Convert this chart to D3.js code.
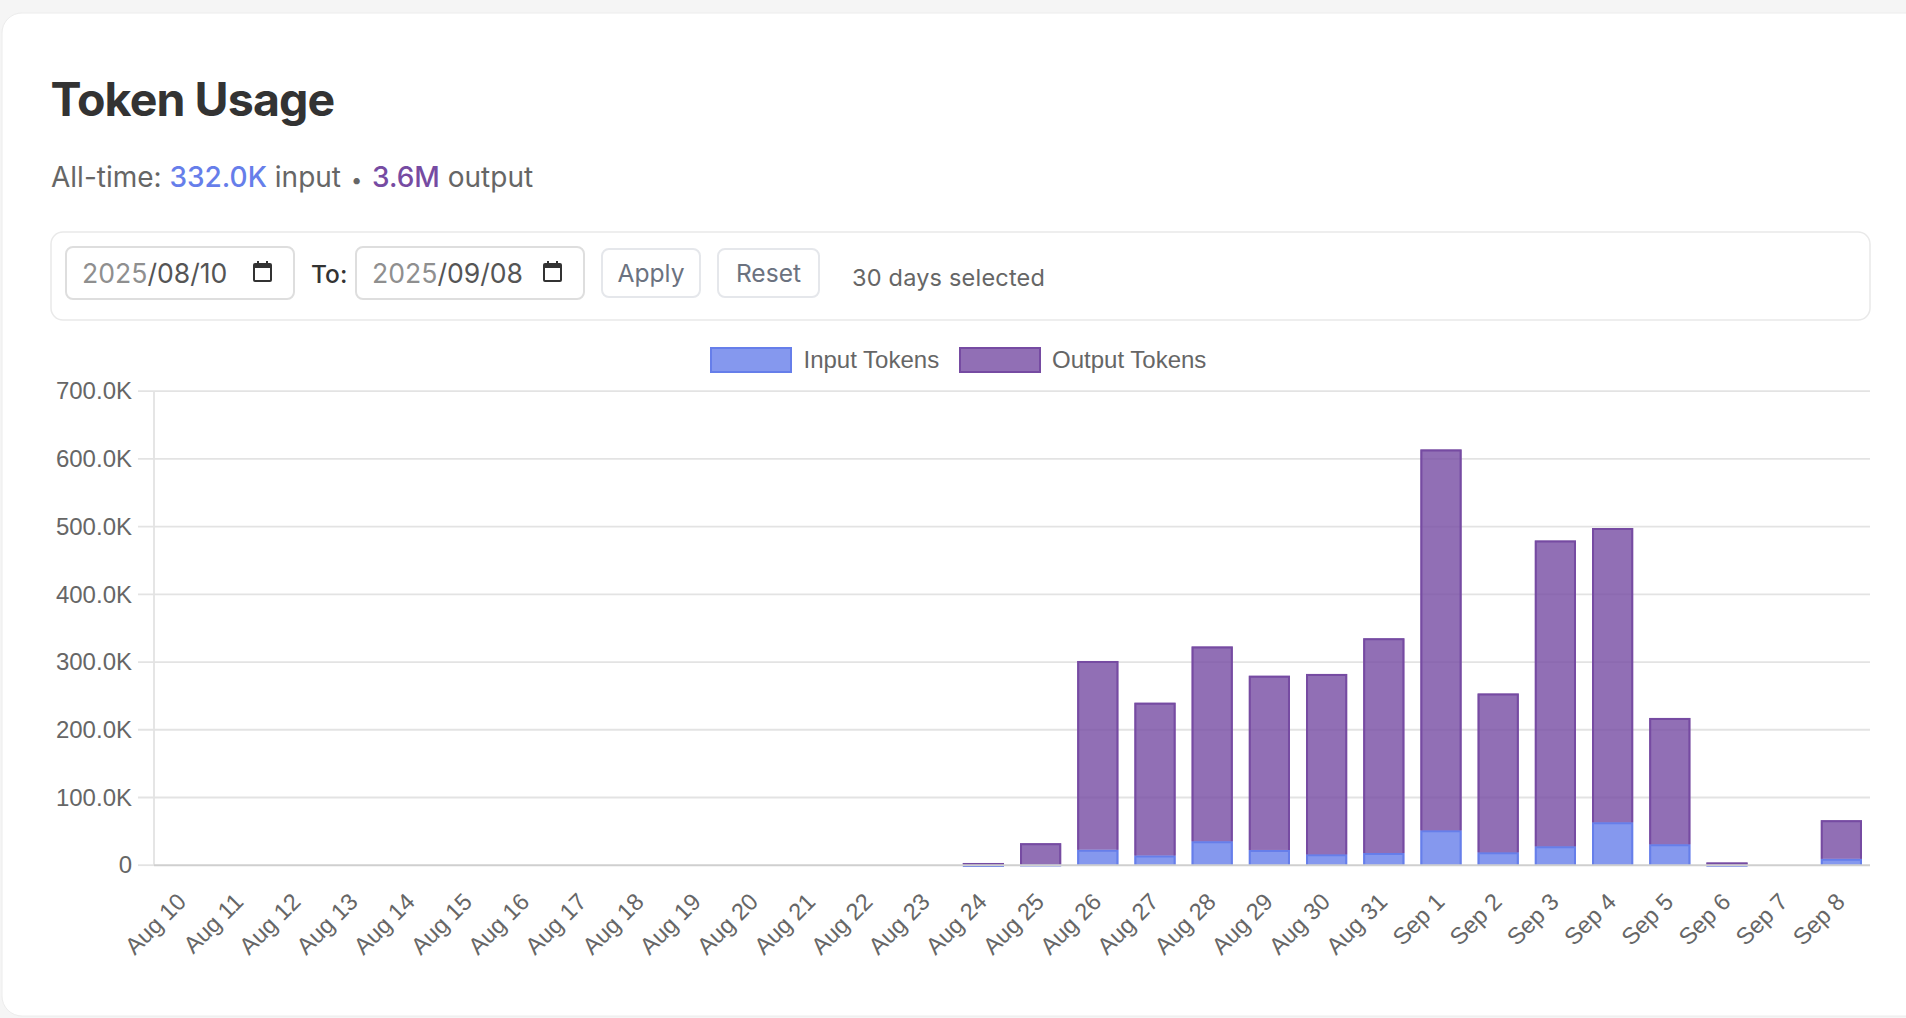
<!DOCTYPE html>
<html>
<head>
<meta charset="utf-8">
<title>Token Usage</title>
<script src="https://cdn.jsdelivr.net/npm/d3@7"></script>
<style>
  html, body { margin: 0; padding: 0; background: #f5f5f5; overflow: hidden; }
  svg { display: block; }
  text { font-family: "Liberation Sans", Arial, sans-serif; }
  .ui text { font-family: Inter, "Noto Sans", sans-serif; }
</style>
</head>
<body>
<svg id="page" width="1906" height="1018"></svg>
<script>
// Daily token usage, in tokens
const days = ["Aug 10","Aug 11","Aug 12","Aug 13","Aug 14","Aug 15","Aug 16","Aug 17","Aug 18","Aug 19",
  "Aug 20","Aug 21","Aug 22","Aug 23","Aug 24","Aug 25","Aug 26","Aug 27","Aug 28","Aug 29","Aug 30",
  "Aug 31","Sep 1","Sep 2","Sep 3","Sep 4","Sep 5","Sep 6","Sep 7","Sep 8"];
const inputTokens = [0,0,0,0,0,0,0,0,0,0,0,0,0,0,300,1000,23000,14500,35500,22500,16000,18000,51500,19000,28000,63500,31000,500,0,9500];
const outputTokens = [0,0,0,0,0,0,0,0,0,0,0,0,0,0,3000,31500,278600,225500,287500,257300,266500,317000,562500,234500,451500,434500,186500,3500,0,57000];
const yTickValues = [0,100000,200000,300000,400000,500000,600000,700000];
const seriesNames = ["Input Tokens","Output Tokens"];
const seriesFill = ["rgba(102,126,234,0.8)","rgba(118,75,162,0.8)"];
const seriesStroke = ["#667eea","#764ba2"];

const svg = d3.select("#page");
const formatTokens = v => v === 0 ? "0" : (v / 1000).toFixed(1) + "K";

// Card and page header
const ui = svg.append("g").attr("class","ui");
ui.append("rect").attr("x",2).attr("y",13).attr("width",1940).attr("height",1003).attr("rx",20)
  .attr("fill","#fff").attr("stroke","#ececec").attr("stroke-width",1);
ui.append("text").attr("x",50.5).attr("y",116).attr("font-size",46.5).attr("font-weight",700)
  .attr("fill","#333").attr("letter-spacing",-0.9).text("Token Usage");

const sub = ui.append("text").attr("x",51).attr("y",187).attr("font-size",28).attr("fill","#666");
sub.append("tspan").text("All-time: ");
sub.append("tspan").attr("fill","#667eea").attr("font-weight",500).text("332.0K");
sub.append("tspan").text(" input ");
sub.append("tspan").attr("font-size",20).attr("dx",2).text("•");
sub.append("tspan").attr("dx",2).text(" ");
sub.append("tspan").attr("fill","#764ba2").attr("font-weight",500).text("3.6M");
sub.append("tspan").text(" output");

// Date filter row
ui.append("rect").attr("x",51).attr("y",232).attr("width",1819).attr("height",88).attr("rx",12)
  .attr("fill","#fff").attr("stroke","#e9e9e9").attr("stroke-width",1.5);

function dateField(x, year, rest) {
  ui.append("rect").attr("x",x).attr("y",247).attr("width",228).attr("height",52).attr("rx",7)
    .attr("fill","#fff").attr("stroke","#dedede").attr("stroke-width",2);
  const t = ui.append("text").attr("x",x + 16).attr("y",283).attr("font-size",26.6).attr("fill","#555");
  t.append("tspan").attr("fill","#8f8f8f").text(year);
  t.append("tspan").text(rest);
  // calendar glyph
  const ix = x + 187, iy = 263;
  ui.append("rect").attr("x",ix + 1).attr("y",iy + 1).attr("width",17).attr("height",17).attr("rx",1)
    .attr("fill","none").attr("stroke","#333").attr("stroke-width",2);
  ui.append("rect").attr("x",ix + 1).attr("y",iy + 1).attr("width",17).attr("height",4).attr("fill","#333");
  [4,13].forEach(d => ui.append("rect").attr("x",ix + d).attr("y",iy - 2).attr("width",2).attr("height",4).attr("fill","#333"));
}
dateField(66,"2025","/08/10");
dateField(356,"2025","/09/08");
ui.append("text").attr("x",311).attr("y",283).attr("font-size",24.5).attr("font-weight",500).attr("fill","#333").text("To:");

function button(x, w, label) {
  ui.append("rect").attr("x",x).attr("y",249).attr("width",w).attr("height",48).attr("rx",7)
    .attr("fill","#fff").attr("stroke","#e5e7eb").attr("stroke-width",2);
  ui.append("text").attr("x",x + w / 2).attr("y",282).attr("text-anchor","middle").attr("font-size",24.6)
    .attr("fill","#6b7280").text(label);
}
button(602,98,"Apply");
button(718,101,"Reset");
ui.append("text").attr("x",852).attr("y",286).attr("font-size",23.5).attr("letter-spacing",0.2)
  .attr("fill","#666").text("30 days selected");

// Chart scales
const plot = { left:154, right:1870, top:391.2, bottom:865.2 };
const x = d3.scaleBand().domain(days).range([plot.left, plot.right]).paddingInner(0.28).paddingOuter(0.14);
const y = d3.scaleLinear().domain([0,700000]).range([plot.bottom, plot.top]);
const chart = svg.append("g");

// Horizontal grid with tick stubs reaching the labels
chart.append("g").selectAll("line").data(yTickValues.filter(d => d > 0)).join("line")
  .attr("x1",plot.left - 16).attr("x2",plot.right).attr("y1",d => y(d)).attr("y2",d => y(d))
  .attr("stroke","#e3e3e3").attr("stroke-width",1.8);
chart.append("line").attr("x1",plot.left - 16).attr("x2",plot.left).attr("y1",y(0)).attr("y2",y(0))
  .attr("stroke","#e3e3e3").attr("stroke-width",1.8);
chart.append("line").attr("x1",plot.left).attr("x2",plot.left).attr("y1",plot.top).attr("y2",plot.bottom)
  .attr("stroke","#e3e3e3").attr("stroke-width",1.8);

// Stacked bars, input at the base; outlines run up the sides and across the top only
const stacked = d3.stack().keys([0,1]).value((d,k) => d[k])(days.map((_,i) => [inputTokens[i], outputTokens[i]]));
stacked.forEach((layer,k) => {
  const g = chart.append("g");
  layer.forEach((d,i) => {
    if (d[1] <= d[0]) return;
    const left = x(days[i]), right = left + x.bandwidth();
    const top = y(d[1]), foot = y(d[0]);
    g.append("rect").attr("x",left).attr("width",x.bandwidth())
      .attr("y",top).attr("height",foot - top).attr("fill",seriesFill[k]);
    const inset = 1;
    const edge = d3.path();
    edge.moveTo(left + inset, foot);
    edge.lineTo(left + inset, top + inset);
    edge.lineTo(right - inset, top + inset);
    edge.lineTo(right - inset, foot);
    g.append("path").attr("d",edge.toString()).attr("fill","none")
      .attr("stroke",seriesStroke[k]).attr("stroke-width",2);
  });
});

// Baseline above the bars' feet
chart.append("line").attr("x1",plot.left).attr("x2",plot.right).attr("y1",y(0)).attr("y2",y(0))
  .attr("stroke","#cfcfcf").attr("stroke-width",2);

// Axes
const yAxis = chart.append("g").attr("transform",`translate(${plot.left - 22},0)`)
  .call(d3.axisLeft(y).tickValues(yTickValues).tickFormat(formatTokens).tickSize(0).tickPadding(0));
yAxis.select(".domain").remove();
yAxis.selectAll("text").attr("font-size",24).attr("font-family","Liberation Sans").attr("fill","#666");

const xAxis = chart.append("g").attr("transform",`translate(0,${plot.bottom})`)
  .call(d3.axisBottom(x).tickSize(0).tickPadding(0));
xAxis.select(".domain").remove();
xAxis.selectAll("text").attr("font-size",23.6).attr("font-family","Liberation Sans").attr("fill","#666")
  .attr("text-anchor","end").attr("dy",0).attr("y",0)
  .attr("transform","translate(5,38) rotate(-45)");

// Legend
const legendBox = [710,959], legendText = [803.5,1052];
seriesNames.forEach((name,k) => {
  chart.append("rect").attr("x",legendBox[k] + 1).attr("y",348).attr("width",80).attr("height",24)
    .attr("fill",seriesFill[k]).attr("stroke",seriesStroke[k]).attr("stroke-width",2);
  chart.append("text").attr("x",legendText[k]).attr("y",368).attr("font-size",24).attr("fill","#666").text(name);
});
</script>
</body>
</html>
